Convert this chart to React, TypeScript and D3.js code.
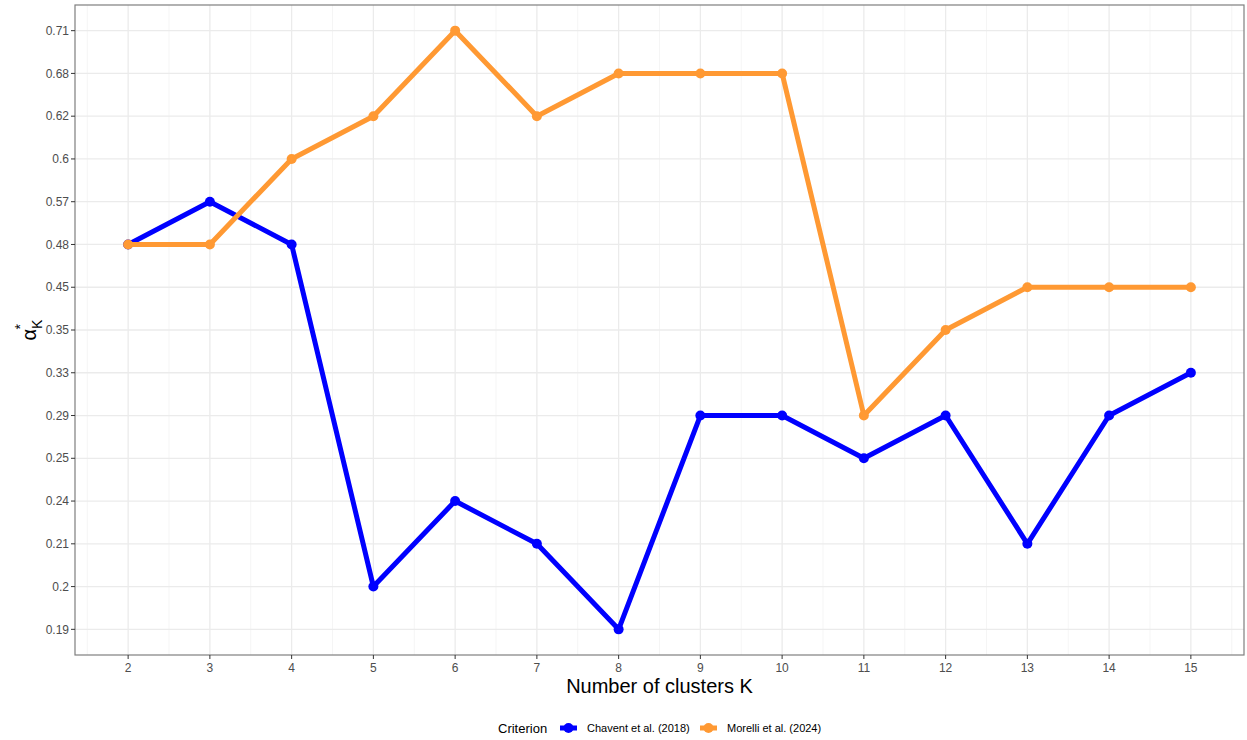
import React from "react";
import * as d3 from "d3";

const clusters = [2, 3, 4, 5, 6, 7, 8, 9, 10, 11, 12, 13, 14, 15];
const yLevels = ["0.19", "0.2", "0.21", "0.24", "0.25", "0.29", "0.33", "0.35", "0.45", "0.48", "0.57", "0.6", "0.62", "0.68", "0.71"];
const chavent = ["0.48", "0.57", "0.48", "0.2", "0.24", "0.21", "0.19", "0.29", "0.29", "0.25", "0.29", "0.21", "0.29", "0.33"];
const morelli = ["0.48", "0.48", "0.6", "0.62", "0.71", "0.62", "0.68", "0.68", "0.68", "0.29", "0.35", "0.45", "0.45", "0.45"];
const seriesNames = ["Chavent et al. (2018)", "Morelli et al. (2024)"];
const seriesColors = ["#0000FF", "#FF9933"];

const W = 1247;
const H = 740;
const panel = { left: 75, right: 1244, top: 5, bottom: 655 };

export default function App() {
  const xs = d3.scaleLinear().domain([1.35, 15.65]).range([panel.left, panel.right]);
  // discrete y axis: levels evenly spaced with 0.6 level padding
  const ys = d3
    .scaleLinear()
    .domain([1 - 0.6, yLevels.length + 0.6])
    .range([panel.bottom, panel.top]);
  const yPos = (v: string) => ys(yLevels.indexOf(v) + 1);

  const minor = d3.range(1.5, 16, 1);
  const line = d3
    .line<[number, string]>()
    .x((d) => xs(d[0]))
    .y((d) => yPos(d[1]));

  const series = [chavent, morelli];
  const font = "Liberation Sans, Arial, sans-serif";

  return (
    <svg width={W} height={H} style={{ position: "absolute", left: 0, top: 0 }} fontFamily={font}>
      <rect x={0} y={0} width={W} height={H} fill="#fff" />
      {/* grid */}
      {minor.map((m) => (
        <line key={"mn" + m} x1={xs(m)} x2={xs(m)} y1={panel.top} y2={panel.bottom} stroke="#F2F2F2" strokeWidth={0.8} />
      ))}
      {clusters.map((k) => (
        <line key={"mx" + k} x1={xs(k)} x2={xs(k)} y1={panel.top} y2={panel.bottom} stroke="#EBEBEB" strokeWidth={1.3} />
      ))}
      {yLevels.map((v) => (
        <line key={"my" + v} x1={panel.left} x2={panel.right} y1={yPos(v)} y2={yPos(v)} stroke="#EBEBEB" strokeWidth={1.3} />
      ))}
      {/* series */}
      {series.map((s, i) => {
        const pts: [number, string][] = clusters.map((k, j) => [k, s[j]]);
        return (
          <g key={"s" + i}>
            <path d={line(pts) || ""} fill="none" stroke={seriesColors[i]} strokeWidth={5} strokeLinejoin="round" />
            {pts.map((p, j) => (
              <circle key={j} cx={xs(p[0])} cy={yPos(p[1])} r={5} fill={seriesColors[i]} />
            ))}
          </g>
        );
      })}
      {/* panel border */}
      <rect x={panel.left} y={panel.top} width={panel.right - panel.left} height={panel.bottom - panel.top} fill="none" stroke="#7F7F7F" strokeWidth={1.2} />
      {/* x axis */}
      {clusters.map((k) => (
        <g key={"xt" + k}>
          <line x1={xs(k)} x2={xs(k)} y1={panel.bottom} y2={panel.bottom + 4} stroke="#333" strokeWidth={1} />
          <text x={xs(k)} y={panel.bottom + 17} textAnchor="middle" fontSize={12} fill="#4D4D4D">
            {k}
          </text>
        </g>
      ))}
      {/* y axis */}
      {yLevels.map((v) => (
        <g key={"yt" + v}>
          <line x1={panel.left - 4} x2={panel.left} y1={yPos(v)} y2={yPos(v)} stroke="#333" strokeWidth={1} />
          <text x={panel.left - 6} y={yPos(v)} dy="0.35em" textAnchor="end" fontSize={12} fill="#4D4D4D">
            {v}
          </text>
        </g>
      ))}
      {/* axis titles */}
      <text x={(panel.left + panel.right) / 2} y={693} textAnchor="middle" fontSize={20} fill="#000">
        Number of clusters K
      </text>
      <g transform={`translate(36, ${(panel.top + panel.bottom) / 2}) rotate(-90)`}>
        <text x={0} y={0} textAnchor="middle" fontSize={20} fill="#000">
          α
          <tspan fontSize={14} dy={6}>K</tspan>
          <tspan fontSize={14} dx={-10} dy={-17}>*</tspan>
        </text>
      </g>
      {/* legend */}
      <g>
        <text x={498} y={733} fontSize={13} fill="#000">Criterion</text>
        {seriesNames.map((n, i) => {
          const x0 = i === 0 ? 560 : 700;
          return (
            <g key={n}>
              <line x1={x0} x2={x0 + 17} y1={728} y2={728} stroke={seriesColors[i]} strokeWidth={5} />
              <circle cx={x0 + 8.5} cy={728} r={5} fill={seriesColors[i]} />
              <text x={x0 + 27} y={732} fontSize={11} fill="#000">{n}</text>
            </g>
          );
        })}
      </g>
    </svg>
  );
}
